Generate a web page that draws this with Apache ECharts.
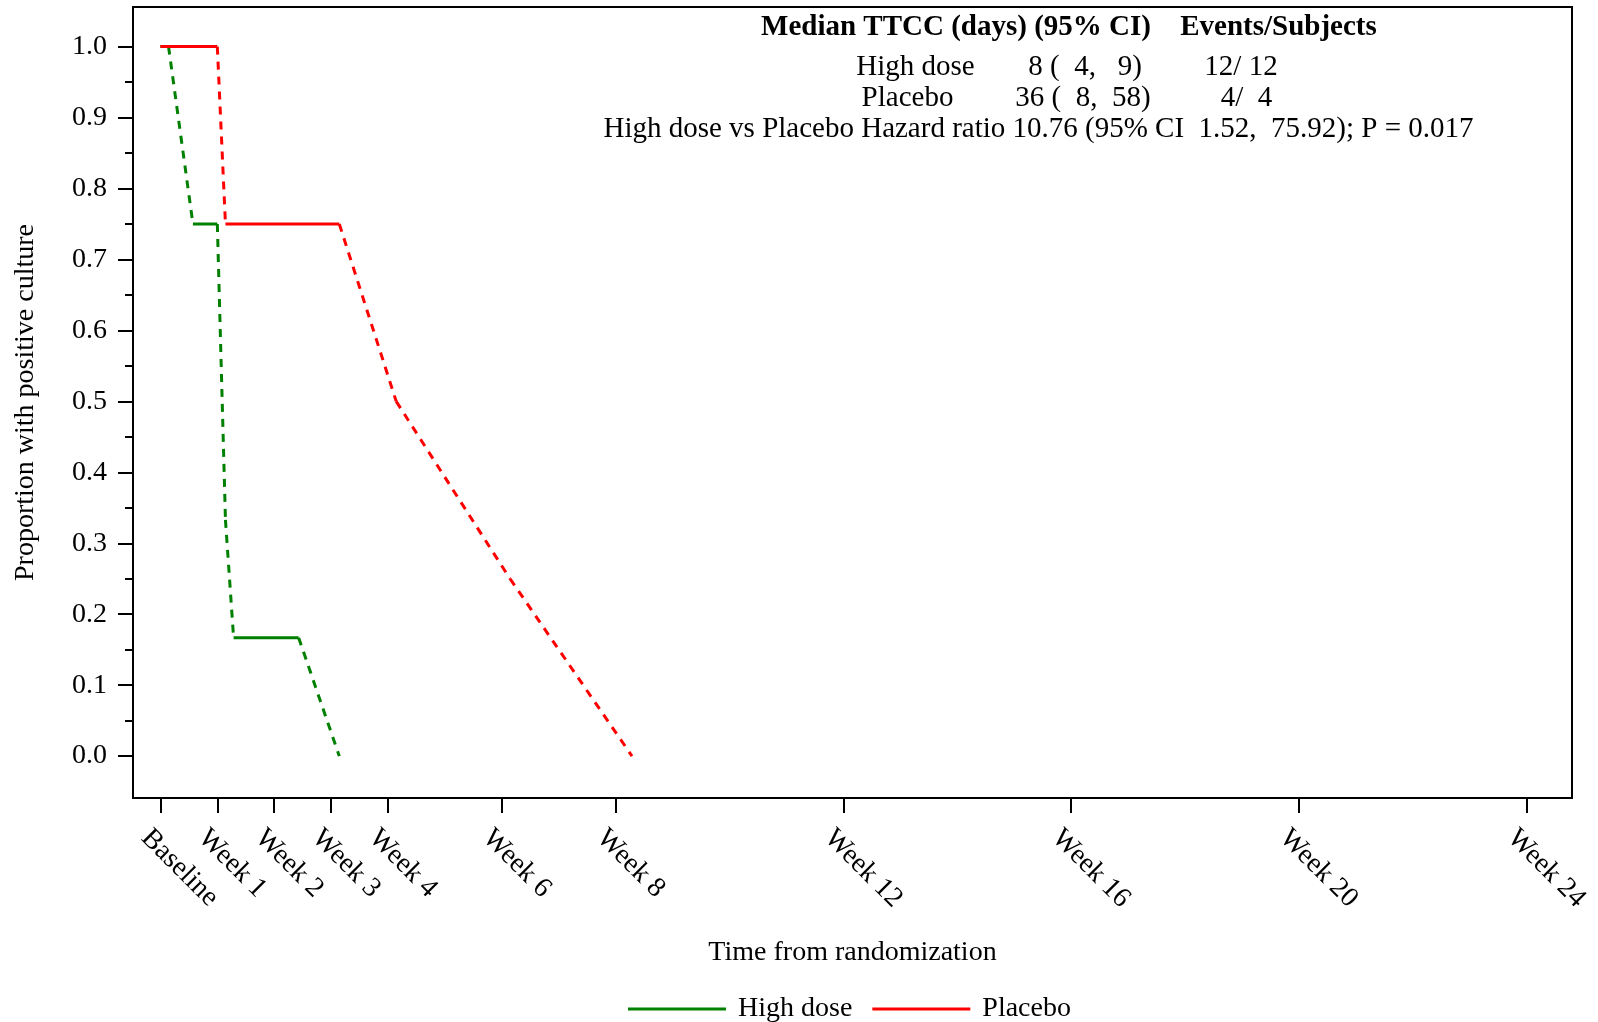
<!DOCTYPE html>
<html>
<head>
<meta charset="utf-8">
<script src="https://cdn.jsdelivr.net/npm/echarts@6/dist/echarts.min.js"></script>
<style>
html,body{margin:0;padding:0;background:#fff;}
#chart{width:1598px;height:1022px;}
</style>
</head>
<body>
<div id="chart"></div>
<script>
// ---- data ----
const tickDays = [0, 7, 14, 21, 28, 42, 56, 84, 112, 140, 168];
const tickLabels = ['Baseline', 'Week 1', 'Week 2', 'Week 3', 'Week 4', 'Week 6', 'Week 8', 'Week 12', 'Week 16', 'Week 20', 'Week 24'];
const yTicks = [0, 0.1, 0.2, 0.3, 0.4, 0.5, 0.6, 0.7, 0.8, 0.9, 1.0];
const yMinorTicks = [0.05, 0.15, 0.25, 0.35, 0.45, 0.55, 0.65, 0.75, 0.85, 0.95];

const highDoseDays = [0, 1, 4, 7, 8, 9, 17, 22];
const highDoseProp = [1, 1, 0.75, 0.75, 0.333, 0.167, 0.167, 0];
const highDoseSegStyle = ['solid', 'dashed', 'solid', 'dashed', 'dashed', 'solid', 'dashed'];

const placeboDays = [0, 7, 8, 22, 29, 43, 58];
const placeboProp = [1, 1, 0.75, 0.75, 0.5, 0.25, 0];
const placeboSegStyle = ['solid', 'dashed', 'solid', 'dashed', 'dashed', 'dashed'];

const groupNames = ['High dose', 'Placebo'];
const groupColors = ['#008000', '#ff0000'];

const headerLine1 = ['Median TTCC (days) (95% CI)', 'Events/Subjects'];
const headerLine2 = ['High dose', '8 (  4,   9)', '12/ 12'];
const headerLine3 = ['Placebo', '36 (  8,  58)', '4/  4'];
const headerLine4 = 'High dose vs Placebo Hazard ratio 10.76 (95% CI  1.52,  75.92); P = 0.017';

// ---- build ----
const FONT = "'Liberation Serif', 'Times New Roman', serif";
const FS = 28;
const HFS = 29;

function segSeries(name, color, days, prop, styles) {
  const out = [];
  for (let i = 0; i < styles.length; i++) {
    out.push({
      name: name,
      type: 'line',
      xAxisIndex: 0,
      yAxisIndex: 0,
      data: [[days[i], prop[i]], [days[i + 1], prop[i + 1]]],
      symbol: 'none',
      silent: true,
      lineStyle: {
        color: color,
        width: 3,
        type: styles[i] === 'dashed' ? [8, 7] : 'solid',
        cap: 'butt'
      },
      itemStyle: { color: color }
    });
  }
  return out;
}

const series = []
  .concat(segSeries(groupNames[0], groupColors[0], highDoseDays, highDoseProp, highDoseSegStyle))
  .concat(segSeries(groupNames[1], groupColors[1], placeboDays, placeboProp, placeboSegStyle));

function txt(x, y, s, bold) {
  return {
    type: 'text',
    x: x, y: y,
    silent: true,
    style: {
      text: s,
      fill: '#000',
      font: (bold ? 'bold ' : '') + HFS + 'px ' + FONT,
      textAlign: 'center',
      textVerticalAlign: 'middle'
    }
  };
}

const chart = echarts.init(document.getElementById('chart'), null, { renderer: 'canvas' });
chart.setOption({
  animation: false,
  backgroundColor: '#fff',
  textStyle: { fontFamily: FONT },
  grid: {
    left: 133, right: 26, top: 7, bottom: 224,
    show: true, borderColor: '#000', borderWidth: 2, backgroundColor: 'transparent'
  },
  xAxis: [{
    type: 'value',
    min: -3.37, max: 173.6,
    name: 'Time from randomization',
    nameLocation: 'middle',
    nameGap: 141,
    nameTextStyle: { fontSize: FS, color: '#000', fontFamily: FONT },
    axisLine: { show: true, onZero: false, lineStyle: { color: '#000', width: 2 } },
    axisTick: { show: true, customValues: tickDays, length: 15, inside: false, lineStyle: { color: '#000', width: 2 } },
    axisLabel: {
      show: true,
      customValues: tickDays,
      rotate: -45,
      margin: 21,
      verticalAlign: 'top',
      padding: [7, 0, 0, 0],
      fontSize: FS, color: '#000', fontFamily: FONT,
      formatter: function (v) { const i = tickDays.indexOf(v); return i >= 0 ? tickLabels[i] : ''; }
    },
    splitLine: { show: false }
  }],
  yAxis: [{
    type: 'value',
    position: 'left',
    min: -0.059, max: 1.0558,
    name: 'Proportion with positive culture',
    nameLocation: 'middle',
    nameRotate: 90,
    nameGap: 93,
    nameTextStyle: { fontSize: FS, color: '#000', fontFamily: FONT },
    axisLine: { show: true, onZero: false, lineStyle: { color: '#000', width: 2 } },
    axisTick: { show: true, customValues: yTicks, length: 15, lineStyle: { color: '#000', width: 2 } },
    axisLabel: {
      show: true, customValues: yTicks, margin: 26,
      fontSize: FS, color: '#000', fontFamily: FONT,
      formatter: function (v) { return v.toFixed(1); }
    },
    splitLine: { show: false }
  }, {
    type: 'value',
    position: 'left',
    offset: 0,
    min: -0.059, max: 1.0558,
    axisLine: { show: false, onZero: false },
    axisTick: { show: true, customValues: yMinorTicks, length: 8, lineStyle: { color: '#000', width: 2 } },
    axisLabel: { show: false },
    splitLine: { show: false }
  }],
  legend: {
    show: true,
    left: 628,
    top: 995,
    padding: 0,
    itemGap: 20,
    itemWidth: 98,
    itemHeight: 3,
    icon: 'rect',
    data: groupNames.map(function (n, i) { return { name: n, icon: 'rect', itemStyle: { color: groupColors[i] } }; }),
    textStyle: { fontSize: FS, color: '#000', fontFamily: FONT, padding: [0, 0, 0, 7] },
    selectedMode: false
  },
  graphic: [
    txt(956, 27.5, headerLine1[0], true),
    txt(1278.5, 27.5, headerLine1[1], true),
    txt(915.5, 67, headerLine2[0], false),
    txt(1085, 67, headerLine2[1], false),
    txt(1241, 67, headerLine2[2], false),
    txt(907.5, 98.8, headerLine3[0], false),
    txt(1083, 98.8, headerLine3[1], false),
    txt(1246.5, 98.8, headerLine3[2], false),
    txt(1038.5, 129.4, headerLine4, false)
  ],
  series: series
});
</script>
</body>
</html>
